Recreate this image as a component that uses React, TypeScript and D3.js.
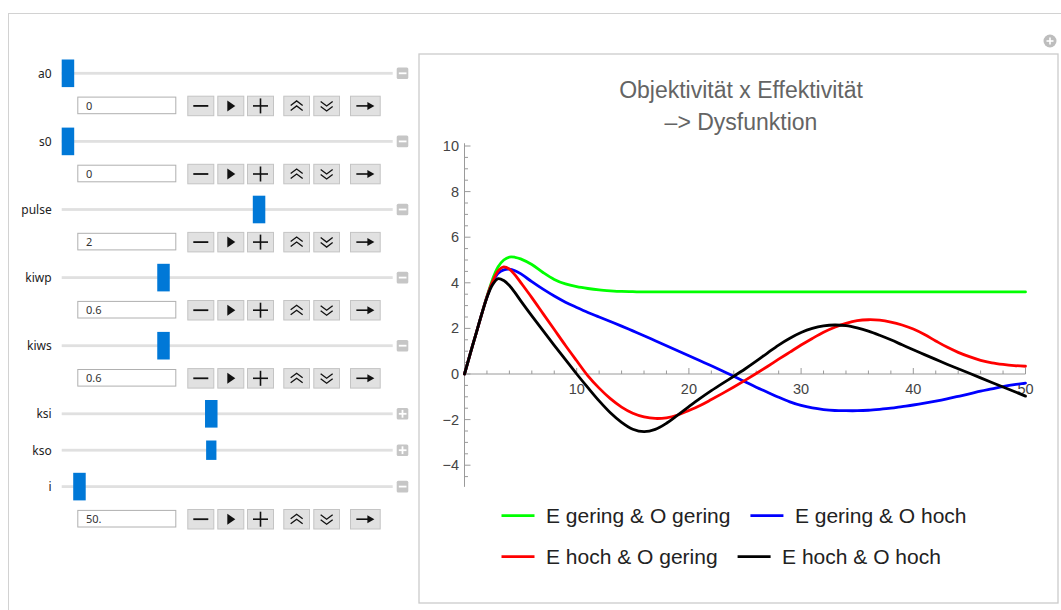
import React from "react";
import * as d3 from "d3";

// ---------- chart data ----------
const tValues = [0, 0.5, 1, 1.5, 2, 2.5, 3, 3.5, 4, 4.5, 5, 6, 7, 8, 9, 10, 11, 12, 13, 14, 15, 16, 17, 18, 19, 20, 21, 22, 23, 24, 25, 26, 27, 28, 29, 30, 31, 32, 33, 34, 35, 36, 37, 38, 39, 40, 41, 42, 43, 44, 45, 46, 47, 48, 49, 50];

const greenValues = [0, 0.87, 1.72, 2.57, 3.4, 4.15, 4.7, 5.0, 5.13, 5.12, 5.05, 4.8, 4.45, 4.15, 3.95, 3.83, 3.75, 3.69, 3.65, 3.62, 3.61, 3.6, 3.6, 3.6, 3.6, 3.6, 3.6, 3.6, 3.6, 3.6, 3.6, 3.6, 3.6, 3.6, 3.6, 3.6, 3.6, 3.6, 3.6, 3.6, 3.6, 3.6, 3.6, 3.6, 3.6, 3.6, 3.6, 3.6, 3.6, 3.6, 3.6, 3.6, 3.6, 3.6, 3.6, 3.6];

const blueValues = [0, 0.87, 1.72, 2.57, 3.38, 4.02, 4.42, 4.57, 4.6, 4.53, 4.4, 4.05, 3.72, 3.42, 3.15, 2.92, 2.7, 2.5, 2.3, 2.1, 1.89, 1.68, 1.46, 1.24, 1.02, 0.8, 0.58, 0.36, 0.13, -0.1, -0.34, -0.58, -0.8, -1.02, -1.22, -1.38, -1.49, -1.56, -1.6, -1.61, -1.61, -1.59, -1.55, -1.5, -1.43, -1.36, -1.28, -1.19, -1.09, -0.98, -0.87, -0.75, -0.65, -0.55, -0.47, -0.4];

const redValues = [0, 0.87, 1.72, 2.57, 3.38, 4.05, 4.52, 4.7, 4.6, 4.35, 4.02, 3.35, 2.65, 1.95, 1.25, 0.58, -0.08, -0.62, -1.08, -1.45, -1.72, -1.88, -1.95, -1.92, -1.8, -1.6, -1.38, -1.12, -0.85, -0.57, -0.28, 0.02, 0.33, 0.65, 0.96, 1.27, 1.56, 1.83, 2.05, 2.22, 2.34, 2.38, 2.36, 2.28, 2.15, 1.97, 1.73, 1.45, 1.18, 0.95, 0.76, 0.6, 0.49, 0.42, 0.37, 0.34];

const blackValues = [0, 0.87, 1.72, 2.57, 3.35, 3.92, 4.18, 4.1, 3.88, 3.57, 3.22, 2.55, 1.9, 1.26, 0.63, 0.0, -0.6, -1.18, -1.7, -2.12, -2.42, -2.53, -2.43, -2.16, -1.8, -1.43, -1.07, -0.73, -0.41, -0.1, 0.22, 0.56, 0.92, 1.27, 1.57, 1.82, 2.0, 2.11, 2.15, 2.12, 2.02, 1.88, 1.7, 1.5, 1.28, 1.06, 0.85, 0.64, 0.43, 0.23, 0.03, -0.17, -0.37, -0.57, -0.77, -0.97];

const seriesNames = ["E gering & O gering", "E gering & O hoch", "E hoch & O gering", "E hoch & O hoch"];
const seriesColors = ["#00ff00", "#0000ff", "#ff0000", "#000000"];
const seriesValues = [greenValues, blueValues, redValues, blackValues];

const xMajorTicks = [10, 20, 30, 40, 50];
const yMajorTicks = [-4, -2, 0, 2, 4, 6, 8, 10];
const titleLines = ["Objektivität x Effektivität", "–> Dysfunktion"];

// ---------- control panel data ----------
const controlNames = ["a0", "s0", "pulse", "kiwp", "kiws", "ksi", "kso", "i"];
const controlValues = [0, 0, 2, 0.6, 0.6, 0.9, 0.9, 50];
const controlMin = [0, 0, 0.5, 0, 0, 0, 0, 20];
const controlMax = [5, 5, 3, 2, 2, 2, 2, 850];
const controlOpen = [true, true, true, true, true, false, false, true];
const controlFieldText = ["0", "0", "2", "0.6", "0.6", "", "", "50."];
const buttonKinds = ["minus", "play", "plus", "up", "down", "arrow"];

const W = 1061;
const H = 610;

function measure(text: string, font: string): number {
  if (typeof document === "undefined") return text.length * 10;
  const c = document.createElement("canvas");
  const ctx = c.getContext("2d");
  if (!ctx) return text.length * 10;
  ctx.font = font;
  return ctx.measureText(text).width;
}

function ButtonGlyph({ kind, cx, cy }: { kind: string; cx: number; cy: number }) {
  const s = "#111";
  if (kind === "minus")
    return <line x1={cx - 7.5} x2={cx + 7.5} y1={cy} y2={cy} stroke={s} strokeWidth={1.8} />;
  if (kind === "plus")
    return (
      <g stroke={s} strokeWidth={1.6}>
        <line x1={cx - 7.5} x2={cx + 7.5} y1={cy} y2={cy} />
        <line x1={cx} x2={cx} y1={cy - 7.5} y2={cy + 7.5} />
      </g>
    );
  if (kind === "play")
    return <path d={`M${cx - 3.5},${cy - 5.5}L${cx + 4.5},${cy}L${cx - 3.5},${cy + 5.5}Z`} fill={s} />;
  if (kind === "up")
    return (
      <g stroke={s} strokeWidth={1.3} fill="none">
        <path d={`M${cx - 6},${cy - 0.5}L${cx},${cy - 5}L${cx + 6},${cy - 0.5}`} />
        <path d={`M${cx - 6},${cy + 4.5}L${cx},${cy}L${cx + 6},${cy + 4.5}`} />
      </g>
    );
  if (kind === "down")
    return (
      <g stroke={s} strokeWidth={1.3} fill="none">
        <path d={`M${cx - 6},${cy - 4.5}L${cx},${cy}L${cx + 6},${cy - 4.5}`} />
        <path d={`M${cx - 6},${cy + 0.5}L${cx},${cy + 5}L${cx + 6},${cy + 0.5}`} />
      </g>
    );
  return (
    <g>
      <line x1={cx - 9} x2={cx + 6} y1={cy} y2={cy} stroke={s} strokeWidth={1.6} />
      <path d={`M${cx + 2},${cy - 4}L${cx + 9},${cy}L${cx + 2},${cy + 4}Z`} fill={s} />
    </g>
  );
}

function Controls() {
  const trackX0 = 61.7;
  const trackX1 = 392.7;
  const thumbW = 12.5;
  const btnX = [187.3, 217.3, 247, 283.3, 313.3, 350];
  const btnW = [27, 27, 27, 26.7, 26.7, 30.7];
  const rows: JSX.Element[] = [];
  let y = 73.3;
  controlNames.forEach((name, i) => {
    const sc = d3.scaleLinear().domain([controlMin[i], controlMax[i]]).range([trackX0 + thumbW / 2, trackX1 - thumbW / 2]);
    const cx = sc(controlValues[i]);
    const small = name === "kso";
    const tw = small ? 10.3 : thumbW;
    const th = small ? 19.4 : 27.6;
    rows.push(
      <g key={name}>
        <text x={51.7} y={y + 4.3} textAnchor="end" fontFamily="'Noto Sans', 'Open Sans', sans-serif" fontSize={12} fill="#222">
          {name}
        </text>
        <rect x={trackX0} y={y - 1.4} width={trackX1 - trackX0} height={2.8} fill="#e0e0e0" />
        <rect x={cx - tw / 2} y={y - th / 2} width={tw} height={th} fill="#0078d7" />
        <rect x={396.7} y={y - 5.8} width={11.6} height={11.6} rx={1.5} fill="#c6c6c6" />
        <line x1={398.8} x2={406.5} y1={y} y2={y} stroke="#fff" strokeWidth={1.8} />
        {!controlOpen[i] && <line x1={402.5} x2={402.5} y1={y - 3.9} y2={y + 3.9} stroke="#fff" strokeWidth={1.8} />}
        {controlOpen[i] && (
          <g>
            <rect x={77.8} y={y + 23.8} width={98} height={16.6} fill="#fff" stroke="#b0b0b0" strokeWidth={1} />
            <text x={86} y={y + 36.2} fontFamily="'Noto Sans', 'Open Sans', sans-serif" fontSize={11} fill="#333">
              {controlFieldText[i]}
            </text>
            {buttonKinds.map((k, j) => (
              <g key={k}>
                <rect x={btnX[j] + 0.5} y={y + 22.9} width={btnW[j] - 1} height={19.5} fill="#e1e1e1" stroke="#c4c4c4" strokeWidth={1} />
                <ButtonGlyph kind={k} cx={btnX[j] + btnW[j] / 2} cy={y + 32.6} />
              </g>
            ))}
          </g>
        )}
      </g>
    );
    y += controlOpen[i] ? 68.1 : 36.4;
  });
  return <g>{rows}</g>;
}

function Chart() {
  const x = d3.scaleLinear().domain([0, 50]).range([464.5, 1025.5]);
  const y = d3.scaleLinear().domain([0, 10]).range([374, 146]);
  const yMin = -4.95;
  const yMax = 10.12;
  const axisColor = "#9a9a9a";
  const labelColor = "#444";
  const font = "'Liberation Sans', Arial, sans-serif";

  const xMinor = d3.range(2, 50, 2).filter((v) => v % 10 !== 0);
  const yMinor = d3.range(-4.5, 10.01, 0.5).filter((v) => Math.abs(v % 2) > 0.01);

  const line = d3
    .line<number>()
    .x((_, i) => x(tValues[i]))
    .y((d) => y(d))
    .curve(d3.curveCatmullRom.alpha(0.5));

  const legendFont = "21px 'Liberation Sans', Arial, sans-serif";
  const lineLen = 33;
  const textGap = 11.5;
  const itemGap = 20;
  const legendX0 = 501.5;
  const legendRows = [
    [0, 1],
    [2, 3],
  ];
  const legendRowY = [515.7, 556.7];

  return (
    <g>
      <rect x={419} y={54} width={639} height={549} fill="#fff" stroke="#cbcbcb" strokeWidth={1.3} />
      {titleLines.map((t, i) => (
        <text key={i} x={741} y={98 + i * 31.5} textAnchor="middle" fontFamily={font} fontSize={23} fill="#646464">
          {t}
        </text>
      ))}
      {/* axes */}
      <line x1={x(0)} x2={x(50)} y1={y(0)} y2={y(0)} stroke={axisColor} strokeWidth={1} />
      <line x1={x(0)} x2={x(0)} y1={y(yMin)} y2={y(yMax)} stroke={axisColor} strokeWidth={1} />
      {xMajorTicks.map((v) => (
        <g key={"xm" + v}>
          <line x1={x(v)} x2={x(v)} y1={y(0)} y2={y(0) - 6} stroke={axisColor} />
          <text x={x(v)} y={y(0) + 19.5} textAnchor="middle" fontFamily={font} fontSize={14.5} fill={labelColor}>
            {v}
          </text>
        </g>
      ))}
      {xMinor.map((v) => (
        <line key={"xn" + v} x1={x(v)} x2={x(v)} y1={y(0)} y2={y(0) - 3.5} stroke={axisColor} />
      ))}
      {yMajorTicks.map((v) => (
        <g key={"ym" + v}>
          <line x1={x(0)} x2={x(0) + 6} y1={y(v)} y2={y(v)} stroke={axisColor} />
          <text x={459} y={y(v) + 5} textAnchor="end" fontFamily={font} fontSize={14.5} fill={labelColor}>
            {v < 0 ? "−" + Math.abs(v) : v}
          </text>
        </g>
      ))}
      {yMinor.map((v) => (
        <line key={"yn" + v} x1={x(0)} x2={x(0) + 3.5} y1={y(v)} y2={y(v)} stroke={axisColor} />
      ))}
      {/* series */}
      {seriesValues.map((vals, i) => (
        <path key={i} d={line(vals) || ""} fill="none" stroke={seriesColors[i]} strokeWidth={2.8} strokeLinejoin="round" strokeLinecap="round" />
      ))}
      {/* legend */}
      {legendRows.map((row, r) => {
        let cx = legendX0;
        return (
          <g key={r}>
            {row.map((si) => {
              const lx = cx;
              const tx = lx + lineLen + textGap;
              const w = measure(seriesNames[si], legendFont);
              cx = tx + w + itemGap;
              return (
                <g key={si}>
                  <line x1={lx} x2={lx + lineLen} y1={legendRowY[r]} y2={legendRowY[r]} stroke={seriesColors[si]} strokeWidth={2.8} />
                  <text x={tx} y={legendRowY[r] + 7.4} fontFamily={font} fontSize={21} fill="#222">
                    {seriesNames[si]}
                  </text>
                </g>
              );
            })}
          </g>
        );
      })}
    </g>
  );
}

export default function App() {
  return (
    <div style={{ position: "absolute", left: 0, top: 0, width: W, height: H, overflow: "hidden", background: "#fff" }}>
      <svg width={W} height={H} style={{ display: "block" }}>
        <rect x={0} y={0} width={W} height={H} fill="#fff" />
        <rect x={8.5} y={13.5} width={1200} height={800} fill="#fff" stroke="#d2d2d2" strokeWidth={1} />
        <Controls />
        <Chart />
        <circle cx={1050} cy={41} r={6.5} fill="#bdbdbd" />
        <line x1={1046.5} x2={1053.5} y1={41} y2={41} stroke="#fff" strokeWidth={1.6} />
        <line x1={1050} x2={1050} y1={37.5} y2={44.5} stroke="#fff" strokeWidth={1.6} />
      </svg>
    </div>
  );
}
